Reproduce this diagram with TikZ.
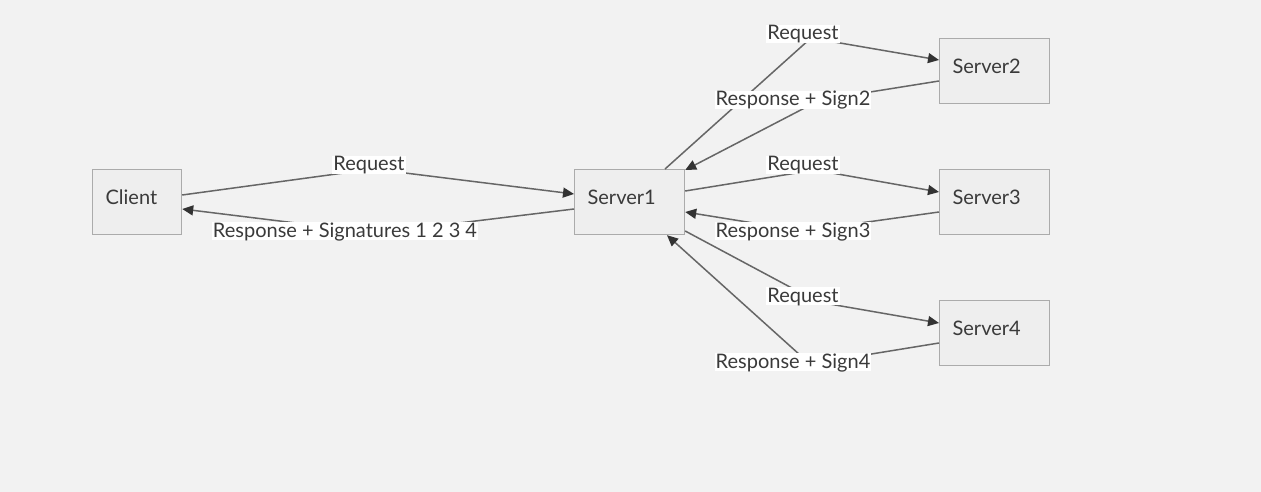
\documentclass[tikz,border=0pt]{standalone}
\usepackage{fontspec}
\setmainfont{Lato}
\usetikzlibrary{arrows.meta,calc}
\definecolor{bgc}{HTML}{F2F2F2}
\definecolor{boxfill}{HTML}{EEEEEE}
\definecolor{boxline}{HTML}{ABABAB}
\definecolor{txtc}{HTML}{3A3A3A}
\definecolor{linec}{HTML}{666666}
\definecolor{tipc}{HTML}{333333}
\tikzset{
  boxnode/.style={draw=boxline, fill=boxfill, line width=1.2pt, anchor=north west,
    minimum height=65pt, inner xsep=13pt, inner ysep=0pt, align=left, text=txtc,
    font=\fontsize{20}{24}\selectfont, text height=14.5pt, text depth=9.5pt},
  clientbox/.style={boxnode, minimum width=89pt, text width=63pt},
  serverbox/.style={boxnode, minimum width=110pt, text width=84pt},
  lbl/.style={fill=white, inner xsep=1pt, inner ysep=0pt, text=txtc, font=\fontsize{20}{24}\selectfont,
    text height=15pt, text depth=3pt},
  conn/.style={draw=linec, line width=1.5pt,
    -{Triangle[length=11pt,width=10pt,color=tipc]}},
}
\begin{document}
\begin{tikzpicture}[x=1pt,y=-1pt]
\useasboundingbox[fill=bgc] (0,0) rectangle (1261,492);
\node[clientbox] (client) at (92,169) {Client};
\node[serverbox] (server1) at (574,169) {Server1};
\node[serverbox] (server2) at (939,38) {Server2};
\node[serverbox] (server3) at (939,169) {Server3};
\node[serverbox] (server4) at (939,300) {Server4};
% bend points
\coordinate (b1) at (373,169);
\coordinate (b2) at (377,233);
\coordinate (b3) at (811,38);
\coordinate (b4) at (820,100);
\coordinate (b5) at (815,170);
\coordinate (b6) at (803,231);
\coordinate (b7) at (818,302);
\coordinate (b8) at (810,364);
% connectors
\draw[conn] ($(client.north east)+(0,26)$) -- (b1) -- ($(server1.north west)+(0,25)$);
\draw[conn] ($(server1.north west)+(0,40)$) -- (b2) -- ($(client.north east)+(0,40)$);
\draw[conn] ($(server1.north west)+(91,0)$) -- (b3) -- ($(server2.north west)+(0,22)$);
\draw[conn] ($(server2.north west)+(0,43)$) -- (b4) -- ($(server1.north east)+(0,1)$);
\draw[conn] ($(server1.north east)+(0,22)$) -- (b5) -- ($(server3.north west)+(0,23)$);
\draw[conn] ($(server3.north west)+(0,43)$) -- (b6) -- ($(server1.north east)+(0,43)$);
\draw[conn] ($(server1.north east)+(0,62)$) -- (b7) -- ($(server4.north west)+(0,23)$);
\draw[conn] ($(server4.north west)+(0,43)$) -- (b8) -- ($(server1.south west)+(93,0)$);
% labels
\node[lbl] (l1) at (369,165) {Request};
\node[lbl] (l2) at (345,231) {Response + Signatures 1 2 3 4};
\node[lbl] (l3) at (803,34) {Request};
\node[lbl] (l4) at (793,100) {Response + Sign2};
\node[lbl] (l5) at (803,165) {Request};
\node[lbl] (l6) at (793,231) {Response + Sign3};
\node[lbl] (l7) at (803,296) {Request};
\node[lbl] (l8) at (793,362) {Response + Sign4};
\end{tikzpicture}
\end{document}
